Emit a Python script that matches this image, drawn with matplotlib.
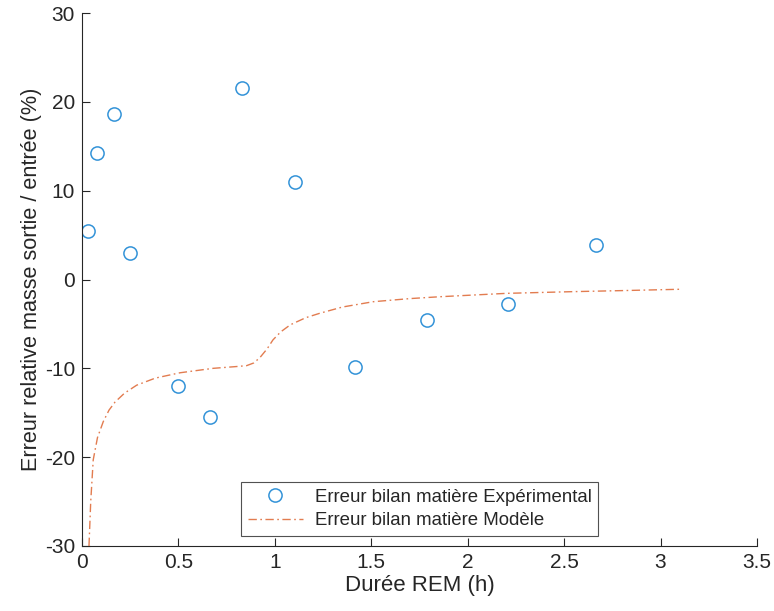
import numpy as np
import matplotlib.pyplot as plt

plt.rcParams['font.family'] = ['Liberation Sans', 'DejaVu Sans']
plt.rcParams['axes.unicode_minus'] = False

# experimental points
duree_exp = [0.031, 0.078, 0.166, 0.249, 0.497, 0.663, 0.829, 1.104, 1.415, 1.79, 2.207, 2.663]
erreur_exp = [5.5, 14.2, 18.6, 3.0, -12.0, -15.5, 21.6, 11.0, -9.85, -4.6, -2.8, 3.9]

# model curve
duree_mod = [0.036, 0.045, 0.058, 0.08, 0.11, 0.14, 0.171, 0.22, 0.283, 0.38, 0.508, 0.68,
             0.8, 0.853, 0.89, 0.922, 0.96, 0.99, 1.03, 1.08, 1.16, 1.233, 1.35, 1.51,
             1.7, 1.855, 2.2, 2.54, 2.8, 3.1]
erreur_mod = [-30.0, -25.0, -20.3, -17.8, -16.0, -14.7, -13.8, -12.8, -11.9, -11.1, -10.5, -10.0,
              -9.8, -9.7, -9.4, -8.8, -7.8, -6.8, -5.9, -5.1, -4.3, -3.8, -3.1, -2.5,
              -2.15, -1.94, -1.56, -1.37, -1.25, -1.1]

fig = plt.figure(figsize=(7.74, 6.11), dpi=100)
ax = fig.add_axes([0.106, 0.1064, 0.872, 0.8723])

ax.plot(duree_exp, erreur_exp, 'o', ls='none', mfc='none', mec='#3393D8', mew=1.1, ms=9.5,
        label='Erreur bilan matière Expérimental')
ax.plot(duree_mod, erreur_mod, ls='-.', color='#E27C50', lw=1.0, dashes=(6, 2.5, 1.2, 2.5),
        label='Erreur bilan matière Modèle')

ax.set_xlim(0, 3.5)
ax.set_ylim(-30, 30)
ax.set_xticks(np.arange(0, 3.51, 0.5))
ax.set_xticklabels(['0', '0.5', '1', '1.5', '2', '2.5', '3', '3.5'])
ax.set_yticks([-30, -20, -10, 0, 10, 20, 30])

for s in ['top', 'right']:
    ax.spines[s].set_visible(False)
for s in ['left', 'bottom']:
    ax.spines[s].set_color('#262626')
    ax.spines[s].set_linewidth(0.8)
ax.tick_params(direction='in', length=6, width=0.8, colors='#262626', labelsize=15, pad=5)

ax.set_xlabel('Durée REM (h)', fontsize=16, color='#262626', labelpad=2)
ax.set_ylabel('Erreur relative masse sortie / entrée (%)', fontsize=15.6, color='#262626', labelpad=2)

leg = ax.legend(loc='lower center', bbox_to_anchor=(0.5, 0.002), fontsize=13.4, frameon=True,
                fancybox=False, edgecolor='#262626', handlelength=3.0, borderpad=0.35,
                labelspacing=0.35, handletextpad=0.6)
leg.get_frame().set_linewidth(0.8)
for t in leg.get_texts():
    t.set_color('#262626')

fig.savefig('out.png', dpi=100)
